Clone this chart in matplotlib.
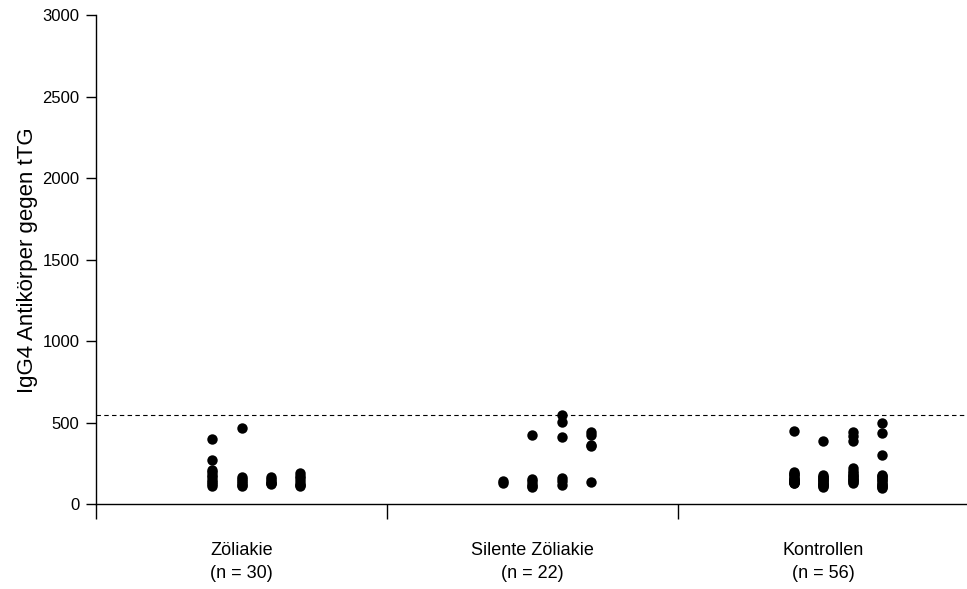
import numpy as np
import matplotlib
matplotlib.use("Agg")
import matplotlib.pyplot as plt

plt.rcParams["font.family"] = ["Liberation Sans", "DejaVu Sans"]

# groups and their labels
groups = ["Zöliakie\n(n = 30)", "Silente Zöliakie\n(n = 22)", "Kontrollen\n(n = 56)"]
sub_offsets = [-0.1, 0.0, 0.1, 0.2]  # four columns per group
cutoff = 545

# values per group, per column
zoeliakie = [
    [397, 270, 210, 195, 180, 165, 150, 135, 120, 110],
    [465, 168, 155, 142, 130, 118, 112],
    [168, 155, 142, 132, 127, 120],
    [189, 175, 160, 140, 125, 117, 112],
]
silente = [
    [140, 132],
    [424, 155, 140, 125, 112, 106],
    [547, 506, 413, 162, 140, 117],
    [444, 425, 362, 355, 137],
]
kontrollen = [
    [448, 198, 185, 172, 160, 148, 140, 135, 130, 127, 185, 155, 145, 138],
    [389, 178, 168, 160, 150, 140, 132, 125, 118, 112, 106, 165, 145, 120],
    [444, 420, 389, 219, 205, 190, 175, 165, 155, 145, 135, 127, 180, 150],
    [496, 438, 301, 178, 165, 155, 145, 135, 125, 115, 105, 96, 170, 110],
]
data = [zoeliakie, silente, kontrollen]


def plot_dots(ax):
    for gi, cols in enumerate(data):
        for ci, vals in enumerate(cols):
            x = np.full(len(vals), gi + 0.5 + sub_offsets[ci])
            ax.plot(x, vals, "o", color="black", markersize=7.5,
                    markeredgewidth=0, clip_on=False)


fig = plt.figure(figsize=(9.67, 5.89), dpi=100)
ax = fig.add_axes([0.0993, 0.1443, 0.9027, 0.8294])

plot_dots(ax)
ax.axhline(cutoff, color="black", linestyle=(0, (4, 3)), linewidth=0.8)

ax.set_xlim(0, 3)
ax.set_ylim(0, 3000)
ax.set_yticks(np.arange(0, 3001, 500))
ax.set_xticks([0, 1, 2, 3])
ax.set_xticklabels([])
ax.set_xticks([0.5, 1.5, 2.5], minor=True)
ax.set_xticklabels(groups, minor=True, fontsize=13, linespacing=1.5)
ax.tick_params(axis="x", which="minor", length=0, pad=27)
ax.tick_params(axis="x", which="major", length=11, width=1, direction="out")
ax.tick_params(axis="y", length=7, width=1, labelsize=12, pad=5)

ax.spines["top"].set_visible(False)
ax.spines["right"].set_visible(False)
ax.spines["bottom"].set_linewidth(1)
ax.spines["left"].set_linewidth(1)

ax.set_ylabel("IgG4 Antikörper gegen tTG", fontsize=16, labelpad=3)

fig.savefig("out.png", dpi=100)
